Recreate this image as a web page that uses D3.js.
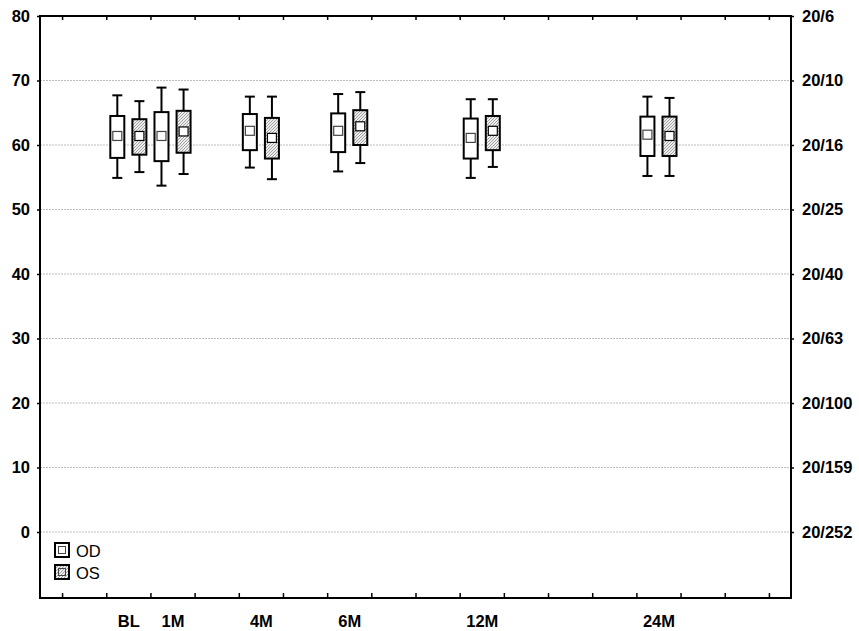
<!DOCTYPE html>
<html><head><meta charset="utf-8">
<script src="https://cdn.jsdelivr.net/npm/d3@7"></script>
<style>body{margin:0;background:#fff}svg{display:block}</style>
</head><body>
<script>
// ---- data ----
const categories = ["BL", "1M", "4M", "6M", "12M", "24M"];
const catPositions = [2, 3, 5, 7, 10, 14];
const series = ["OD", "OS"];
// [whiskerLow, boxLow, mean, boxHigh, whiskerHigh]
const odValues = [
  [54.9, 58.0, 61.4, 64.5, 67.7],
  [53.7, 57.5, 61.4, 65.1, 68.9],
  [56.5, 59.2, 62.2, 64.8, 67.5],
  [55.9, 58.9, 62.2, 64.9, 67.9],
  [54.9, 57.9, 61.1, 64.1, 67.1],
  [55.2, 58.3, 61.6, 64.4, 67.5]
];
const osValues = [
  [55.8, 58.5, 61.4, 64.0, 66.8],
  [55.5, 58.8, 62.1, 65.3, 68.6],
  [54.7, 57.9, 61.1, 64.2, 67.5],
  [57.2, 60.0, 62.9, 65.4, 68.2],
  [56.6, 59.2, 62.2, 64.5, 67.1],
  [55.2, 58.3, 61.4, 64.4, 67.3]
];
const leftTicks = [0, 10, 20, 30, 40, 50, 60, 70, 80];
const rightTickLabels = ["20/252", "20/159", "20/100", "20/63", "20/40", "20/25", "20/16", "20/10", "20/6"];
const xBoundaryTicks = d3.range(0.5, 17, 1);

// ---- layout ----
const W = 859, H = 631;
const L = 40, R = 791, T = 16, B = 598;
const FONT = "'Liberation Sans', Arial, sans-serif";
const svg = d3.select("body").append("svg").attr("width", W).attr("height", H)
  .style("font-family", FONT);

const x = d3.scaleLinear().domain([0, 17]).range([L, R]);
const y = d3.scaleLinear().domain([-10.23, 80]).range([B, T]);

const defs = svg.append("defs");
const pat = defs.append("pattern").attr("id", "hatch").attr("patternUnits", "userSpaceOnUse")
  .attr("width", 3).attr("height", 3);
pat.append("rect").attr("width", 3).attr("height", 3).attr("fill", "#eeeeee");
pat.append("path").attr("d", "M-1,1 l2,-2 M0,3 l3,-3 M2,4 l2,-2").attr("stroke", "#8a8a8a").attr("stroke-width", 0.8);

// gridlines
svg.append("g").selectAll("line").data(leftTicks.filter(d => d < 80)).join("line")
  .attr("x1", L).attr("x2", R).attr("y1", d => y(d)).attr("y2", d => y(d))
  .attr("stroke", "#bdbdbd").attr("stroke-width", 1).attr("stroke-dasharray", "2,1");

// axes
const fontBold = g => g.selectAll("text").attr("font-weight", "bold").attr("font-size", 16.5)
  .attr("fill", "#000").attr("font-family", FONT);

const gL = svg.append("g").attr("transform", `translate(${L},0)`)
  .call(d3.axisLeft(y).tickValues(leftTicks).tickSize(3).tickPadding(7).tickFormat(d3.format("d")));
gL.call(fontBold); gL.select(".domain").remove();
gL.selectAll("line").attr("stroke-width", 1.5);

const gR = svg.append("g").attr("transform", `translate(${R},0)`)
  .call(d3.axisRight(y).tickValues(leftTicks).tickSize(3).tickPadding(8).tickFormat((d, i) => rightTickLabels[i]));
gR.call(fontBold); gR.select(".domain").remove();
gR.selectAll("line").attr("stroke-width", 1.5);

const gB = svg.append("g").attr("transform", `translate(0,${B})`)
  .call(d3.axisTop(x).tickValues(xBoundaryTicks).tickSize(5).tickFormat(""));
gB.select(".domain").remove(); gB.selectAll("line").attr("stroke-width", 1.5);

const gT = svg.append("g").attr("transform", `translate(0,${T})`)
  .call(d3.axisBottom(x).tickValues(xBoundaryTicks).tickSize(4).tickFormat(""));
gT.select(".domain").remove(); gT.selectAll("line").attr("stroke-width", 1.5);

const gX = svg.append("g").attr("transform", `translate(0,${B})`)
  .call(d3.axisBottom(x).tickValues(catPositions).tickSize(0).tickPadding(17).tickFormat((d, i) => categories[i]));
gX.call(fontBold); gX.select(".domain").remove();

// frame
svg.append("rect").attr("x", L).attr("y", T).attr("width", R - L).attr("height", B - T)
  .attr("fill", "none").attr("stroke", "#000").attr("stroke-width", 2);

// boxes
const offset = 0.25, halfW = 7, capHalf = 5, meanHalf = 4.5;
function drawSeries(vals, dx, fill, meanStroke) {
  const g = svg.append("g");
  vals.forEach((v, i) => {
    const cx = x(catPositions[i] + dx);
    g.append("line").attr("x1", cx).attr("x2", cx).attr("y1", y(v[0])).attr("y2", y(v[4]))
      .attr("stroke", "#000").attr("stroke-width", 2);
    [v[0], v[4]].forEach(w => g.append("line").attr("x1", cx - capHalf).attr("x2", cx + capHalf)
      .attr("y1", y(w)).attr("y2", y(w)).attr("stroke", "#000").attr("stroke-width", 2));
    g.append("rect").attr("x", cx - halfW).attr("y", y(v[3])).attr("width", 2 * halfW)
      .attr("height", y(v[1]) - y(v[3])).attr("fill", fill).attr("stroke", "#000").attr("stroke-width", 2);
    g.append("rect").attr("x", cx - meanHalf).attr("y", y(v[2]) - meanHalf).attr("width", 2 * meanHalf)
      .attr("height", 2 * meanHalf).attr("fill", "#fff").attr("stroke", meanStroke).attr("stroke-width", 1.2);
  });
}
drawSeries(odValues, -offset, "#fff", "#444");
drawSeries(osValues, offset, "url(#hatch)", "#000");

// legend
const leg = svg.append("g");
series.forEach((s, i) => {
  const ly = 543 + i * 22;
  leg.append("rect").attr("x", 55).attr("y", ly).attr("width", 14).attr("height", 14)
    .attr("fill", i === 0 ? "#fff" : "url(#hatch)").attr("stroke", "#000").attr("stroke-width", 2);
  leg.append("rect").attr("x", 58.5).attr("y", ly + 3.5).attr("width", 7).attr("height", 7)
    .attr("fill", i === 0 ? "#fff" : "none").attr("stroke", "#444").attr("stroke-width", 1);
  leg.append("text").attr("x", 76).attr("y", ly + 14).attr("font-size", 16.5).text(s);
});
</script>
</body></html>
